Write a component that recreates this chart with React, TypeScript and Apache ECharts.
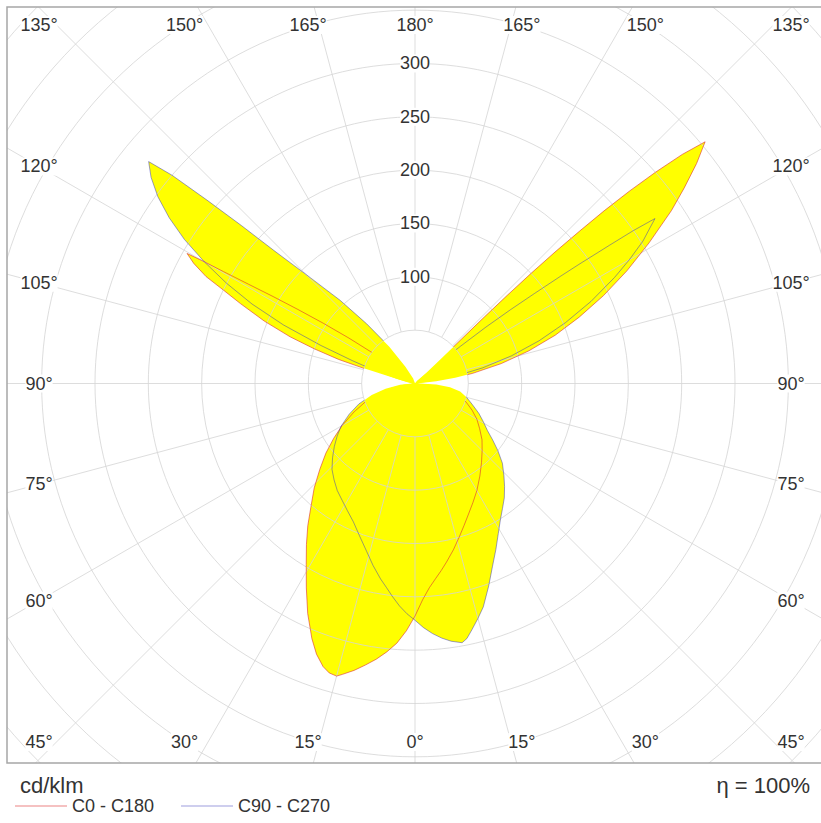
import React, { useEffect, useRef } from 'react';
import * as echarts from 'echarts';

// Gamma tick angles (0 = nadir, 180 = zenith) and radial tick labels (cd/klm)
const tickAngles = [0, 15, 30, 45, 60, 75, 90, 105, 120, 135, 150, 165, 180];
const radiusTicks = [100, 150, 200, 250, 300];

// C0 - C180 plane: right half (C0) and left half (C180)
const c0Angles = [0, 2, 4, 6, 8, 10, 13, 16, 19, 22, 26, 30, 35, 40, 45, 50, 55, 60, 65, 70, 75, 80, 84, 87, 90, 94, 96, 98, 100, 103, 106, 109, 112, 115, 118, 121, 124, 126, 128, 129.8, 130.6, 131.3, 131.9, 132.4, 132.8, 133.2, 133.5, 133.7, 133.8, 133.7, 133.4, 133, 140, 180];
const c0Values = [218, 203, 192, 184, 177, 170, 160, 150, 141, 133, 124, 116, 106, 97, 89, 82, 74, 67, 59, 51, 42, 32, 22, 12, 2, 3, 20, 38, 55, 83, 111, 139, 166, 195, 225, 256, 290, 312, 335, 354, 330, 300, 270, 240, 210, 180, 150, 120, 90, 60, 35, 15, 3, 0];
const c180Angles = [0, 2, 4, 6, 8, 10, 12, 14, 15, 16.5, 18, 20, 22, 25, 28, 31, 34, 37, 40, 44, 48, 52, 56, 60, 65, 70, 75, 80, 85, 90, 100, 103, 105.2, 106.5, 107.5, 109, 110.5, 112.5, 114.6, 116, 117.1, 118.5, 119.7, 120, 120.3, 120.8, 121.5, 122.3, 123.3, 124.5, 125.9, 127.5, 130, 140, 180];
const c180Values = [218, 232, 244, 253, 261, 268, 275, 281, 284, 283, 279, 270, 258, 238, 217, 198, 182, 167, 152, 136, 120, 106, 92, 79, 63, 49, 35, 22, 10, 2, 5, 12, 24, 50, 75, 100, 125, 153, 180, 200, 220, 236, 246, 230, 208, 182, 156, 130, 103, 75, 48, 25, 10, 2, 0];

// C90 - C270 plane: right half (C90) and left half (C270)
const c90Angles = [0, 2, 4, 6, 8, 10.3, 11.5, 13, 15, 17, 20, 23, 26, 29, 32, 35, 38, 41, 44, 47.6, 51, 54, 57, 61, 65, 70, 75, 80, 84, 87, 89, 90, 93, 96, 98, 100, 103, 106, 109, 112, 115, 118, 120, 122, 123.5, 124.5, 125, 125.4, 126, 126.4, 127, 127.7, 128.5, 129.3, 130.5, 133, 140, 180];
const c90Values = [222, 229, 235, 240, 244, 247, 244, 237, 228, 219, 202, 186, 173, 161, 151, 143, 136, 128, 120, 111, 100, 90, 81, 73, 66, 57, 50, 43, 33, 20, 8, 2, 2, 4, 18, 37, 65, 94, 123, 152, 182, 212, 232, 252, 264, 273, 250, 224, 190, 169, 140, 113, 85, 55, 30, 10, 3, 0];
const c270Angles = [0, 2, 4, 6, 8, 10, 13, 16, 20, 24, 28, 32, 36, 40, 44, 48, 52, 56, 60, 65, 70, 75, 80, 85, 90, 95, 100, 104, 108, 110, 112, 114, 116, 118, 120, 122, 124, 126, 128, 129.8, 130.6, 131.4, 132.3, 133.3, 135, 138, 141, 145, 150, 160, 180];
const c270Values = [222, 216, 209, 201, 193, 186, 175, 164, 152, 142, 135, 129, 124, 118, 112, 104, 96, 88, 80, 68, 56, 42, 28, 14, 2, 3, 8, 18, 40, 62, 95, 135, 170, 200, 228, 255, 278, 298, 314, 325, 300, 260, 220, 182, 145, 105, 72, 42, 18, 5, 0];

const seriesNames = ['C0 - C180', 'C90 - C270'];
const seriesColors = ['rgba(222,50,50,0.6)', 'rgba(60,60,190,0.5)'];

// Layout
const W = 821;
const H = 823;
const CX = 415;
const CY = 383.5;
const PX_PER_UNIT = 1.0667;
const R_MIN = 50;
const R_MAX = 550;
const FRAME = { x: 7, y: 7, w: 816, h: 756 };
const FONT = '"Liberation Sans", Arial, Helvetica, sans-serif';

// Build closed loop in axis angle space (0 = zenith, clockwise)
function loop(rA: number[], rV: number[], lA: number[], lV: number[]) {
  const pts: number[][] = [];
  for (let i = 0; i < rA.length; i++) pts.push([rV[i], 180 - rA[i]]);
  for (let i = lA.length - 1; i >= 0; i--) pts.push([lV[i], 180 + lA[i]]);
  pts.push(pts[0]);
  return pts;
}

function angleLabelPos(g: number, side: number) {
  const rad = (g * Math.PI) / 180;
  const dx = side * Math.sin(rad);
  const dy = Math.cos(rad);
  const hw = 376;
  const hh = 399;
  const tx = Math.abs(dx) > 1e-9 ? hw / Math.abs(dx) : Infinity;
  const ty = Math.abs(dy) > 1e-9 ? hh / Math.abs(dy) : Infinity;
  const t = Math.min(tx, ty);
  let x = CX + dx * t;
  let y = CY + dy * t;
  x = Math.max(CX - 376, Math.min(CX + 376, x));
  y = Math.max(25, Math.min(742, y));
  return [x, y];
}

export default function App() {
  const ref = useRef<HTMLDivElement>(null);

  useEffect(() => {
    if (!ref.current) return;
    const chart = echarts.init(ref.current, null, { renderer: 'svg' });

    const loopC0 = loop(c0Angles, c0Values, c180Angles, c180Values);
    const loopC90 = loop(c90Angles, c90Values, c270Angles, c270Values);

    const fillSeries = (pts: number[][], idx: number) => ({
      type: 'custom',
      name: 'fill' + idx,
      coordinateSystem: 'polar',
      z: 1,
      silent: true,
      data: [[0, 0]],
      renderItem: (params: any, api: any) => ({
        type: 'polygon',
        shape: { points: pts.map((p) => api.coord(p)) },
        style: { fill: '#ffff00', stroke: 'none' },
      }),
    });

    const lineSeries = (pts: number[][], idx: number) => ({
      type: 'line',
      name: seriesNames[idx],
      coordinateSystem: 'polar',
      z: 5,
      clip: false,
      symbol: 'none',
      smooth: false,
      color: seriesColors[idx],
      lineStyle: { color: seriesColors[idx], width: 1 },
      data: pts,
    });

    const labels: any[] = [];
    tickAngles.forEach((g) => {
      const sides = g === 0 || g === 180 ? [1] : [-1, 1];
      sides.forEach((s) => {
        const [x, y] = angleLabelPos(g, s);
        labels.push({
          type: 'text',
          x,
          y,
          z: 120,
          style: {
            text: g + '°',
            fill: '#333',
            fontSize: 18,
            fontFamily: FONT,
            align: 'center',
            verticalAlign: 'middle',
            backgroundColor: '#fff',
          },
        });
      });
    });

    chart.setOption({
      animation: false,
      backgroundColor: '#fff',
      textStyle: { fontFamily: FONT },
      polar: {
        center: [CX, CY],
        radius: [R_MIN * PX_PER_UNIT, R_MAX * PX_PER_UNIT],
      },
      angleAxis: {
        type: 'value',
        min: 0,
        max: 360,
        interval: 15,
        startAngle: 90,
        clockwise: true,
        z: 3,
        axisLine: { show: false },
        axisTick: { show: false },
        axisLabel: { show: false },
        splitLine: { show: true, lineStyle: { color: '#d4d4d4', width: 1, opacity: 0.8 } },
      },
      radiusAxis: {
        type: 'value',
        min: R_MIN,
        max: R_MAX,
        interval: 50,
        z: 3,
        axisLine: { show: false },
        axisTick: { show: false },
        splitLine: { show: true, lineStyle: { color: '#d4d4d4', width: 1, opacity: 0.8 } },
        axisLabel: {
          show: true,
          margin: 0,
          align: 'center',
          verticalAlign: 'middle',
          color: '#333',
          fontSize: 18,
          fontFamily: FONT,
          backgroundColor: '#fff',
          formatter: (v: number) => (radiusTicks.indexOf(v) >= 0 ? String(v) : ''),
        },
      },
      legend: {
        data: seriesNames.map((n) => ({ name: n, icon: 'rect' })),
        z: 130,
        left: 15,
        top: 797,
        padding: 0,
        itemWidth: 52,
        itemHeight: 1.2,
        itemGap: 27,
        textStyle: { fontSize: 18, color: '#333', fontFamily: FONT },
      },
      graphic: {
        elements: [
          { type: 'rect', z: 100, silent: true, shape: { x: 0, y: 0, width: FRAME.x, height: H }, style: { fill: '#fff' } },
          { type: 'rect', z: 100, silent: true, shape: { x: 0, y: 0, width: W, height: FRAME.y }, style: { fill: '#fff' } },
          { type: 'rect', z: 100, silent: true, shape: { x: 0, y: FRAME.y + FRAME.h, width: W, height: H - FRAME.y - FRAME.h }, style: { fill: '#fff' } },
          { type: 'rect', z: 110, silent: true, shape: { x: FRAME.x, y: FRAME.y, width: FRAME.w, height: FRAME.h }, style: { fill: 'none', stroke: '#a6a6a6', lineWidth: 1.5 } },
          ...labels,
          { type: 'text', z: 120, x: 20, y: 785, style: { text: 'cd/klm', fill: '#333', fontSize: 22, fontFamily: FONT, align: 'left', verticalAlign: 'middle' } },
          { type: 'text', z: 120, x: 810, y: 785, style: { text: 'η = 100%', fill: '#333', fontSize: 22, fontFamily: FONT, align: 'right', verticalAlign: 'middle' } },
        ],
      },
      series: [
        fillSeries(loopC0, 0),
        fillSeries(loopC90, 1),
        lineSeries(loopC0, 0),
        lineSeries(loopC90, 1),
      ],
    });

    return () => chart.dispose();
  }, []);

  return <div ref={ref} style={{ position: 'fixed', left: 0, top: 0, width: W, height: H }} />;
}
